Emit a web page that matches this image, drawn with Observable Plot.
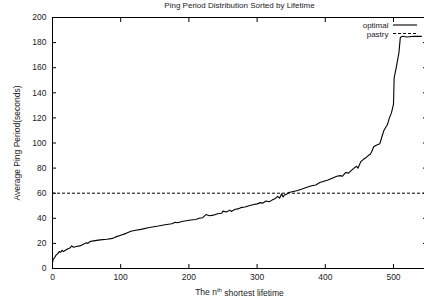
<!DOCTYPE html>
<html>
<head>
<meta charset="utf-8">
<script src="https://cdn.jsdelivr.net/npm/d3@7"></script>
<script src="https://cdn.jsdelivr.net/npm/@observablehq/plot@0.6"></script>
<style>
  body { margin: 0; background: #fff; }
  #chart { position: relative; width: 424px; height: 300px; overflow: hidden; }
</style>
</head>
<body>
<div id="chart"></div>
<script>
const title = "Ping Period Distribution Sorted by Lifetime";
const yLabel = "Average Ping Period(seconds)";
const xLabelParts = ["The n", "th", " shortest lifetime"];
const seriesNames = ["optimal", "pastry"];
const xTicks = [0, 100, 200, 300, 400, 500];
const yTicks = [0, 20, 40, 60, 80, 100, 120, 140, 160, 180, 200];
const pastryValue = 60;

// optimal: rank (n-th shortest lifetime) and average ping period
const rank = [0, 1, 3, 5, 8, 10, 12, 14, 16, 19, 22, 26, 28, 31, 35, 40, 46, 50, 52, 55, 60, 70, 80, 88, 92, 100,
  108, 115, 122, 130, 140, 155, 165, 175, 180, 183, 190, 200, 210, 215, 220, 225, 230, 236, 242, 248, 250, 255,
  260, 262, 268, 272, 276, 282, 288, 295, 300, 305, 308, 313, 318, 322, 326, 330, 333, 336, 338, 340, 343, 346,
  350, 358, 365, 372, 380, 386, 392, 398, 404, 410, 417, 422, 425, 430, 434, 438, 442, 446, 448, 452, 456, 460,
  463, 466, 468, 471, 474, 480, 483, 486, 488, 491, 494, 497, 500, 501, 504, 506, 508, 510, 513, 520, 530, 541];
const optimal = [4.5, 7.5, 8.5, 10.5, 12, 13.5, 13, 14.5, 13.5, 14.5, 15.5, 16.5, 18, 17, 17.5, 18, 19.5, 20.5, 20, 21.5, 22, 22.8, 23.3, 24, 25, 26.5,
  28, 29.7, 30.5, 31.2, 32.5, 33.8, 34.8, 35.6, 36.8, 36.4, 37.5, 38.4, 39.1, 40, 40.4, 43, 42, 42.5, 43.6, 44, 45.7, 45,
  46.5, 45.5, 47.2, 47.5, 48.5, 49, 50, 51, 51.5, 52.5, 52, 53.8, 53.2, 54.5, 55.5, 57.5, 56, 59.5, 57, 58.5, 59.2, 60.5,
  61, 62, 63.2, 64.5, 66, 66.5, 68.5, 69.5, 70.5, 72, 73.5, 74, 73.5, 76.5, 76, 78, 80, 81.5, 80, 85, 87, 88.5,
  90, 91, 93, 97, 98, 99.5, 105, 110, 112, 114.5, 120, 124, 131, 152, 160, 166, 172, 184, 185, 184.5, 185, 185];

const data = rank.map((r, i) => ({rank: r, value: optimal[i]}));
const blank = () => "";
const font = "'Liberation Sans', Arial, Helvetica, sans-serif";

const plot = Plot.plot({
  width: 424,
  height: 300,
  marginLeft: 52,
  marginRight: -2,
  marginTop: 17,
  marginBottom: 32,
  style: {fontFamily: font, fontSize: "8.5px", color: "#000", background: "#fff", overflow: "hidden"},
  x: {domain: [0, 548.4]},
  y: {domain: [0, 200]},
  marks: [
    Plot.ruleY([pastryValue], {stroke: "#000", strokeWidth: 1, strokeDasharray: "3,2"}),
    Plot.line(data, {x: "rank", y: "value", stroke: "#000", strokeWidth: 1.1}),
    Plot.frame({stroke: "#000", strokeWidth: 1}),
    Plot.axisX(xTicks, {anchor: "bottom", tickSize: 4, dy: -4, tickFormat: blank, label: null}),
    Plot.axisX(xTicks, {anchor: "top", tickSize: 4, dy: 4, tickFormat: blank, label: null}),
    Plot.axisY(yTicks, {anchor: "left", tickSize: 4, dx: 4, tickFormat: blank, label: null}),
    Plot.axisY(yTicks, {anchor: "right", tickSize: 4, dx: -4, tickFormat: blank, label: null}),
    Plot.axisX(xTicks, {anchor: "bottom", tickSize: 0, tickPadding: 5, label: null, fill: "#222"}),
    Plot.axisY(yTicks, {anchor: "left", tickSize: 0, tickPadding: 6, label: null, fill: "#222"}),
    Plot.text([title], {frameAnchor: "top", dy: -12.5, lineAnchor: "middle", fontSize: 8, fill: "#222"}),
    Plot.text([yLabel], {frameAnchor: "left", dx: -35, rotate: -90, textAnchor: "middle", fontSize: 8.5, fill: "#222"}),
    Plot.text([xLabelParts.join("")], {frameAnchor: "bottom", dy: 23.5, lineAnchor: "middle", textAnchor: "middle", fontSize: 8.5, fill: "#222"}),
    Plot.text([seriesNames[0]], {frameAnchor: "top-right", dx: -38, dy: 8, lineAnchor: "middle", textAnchor: "end", fontSize: 8, fill: "#222"}),
    Plot.text([seriesNames[1]], {frameAnchor: "top-right", dx: -38, dy: 16.5, lineAnchor: "middle", textAnchor: "end", fontSize: 8, fill: "#222"})
  ]
});

document.getElementById("chart").appendChild(plot);

// superscript "th" in the x label
const full = xLabelParts.join("");
d3.select(plot).selectAll("text").filter(function() { return this.textContent === full; }).each(function() {
  const t = d3.select(this);
  t.text(null);
  t.append("tspan").text(xLabelParts[0]);
  t.append("tspan").attr("dy", "-0.45em").attr("font-size", "6px").text(xLabelParts[1]);
  t.append("tspan").attr("dy", "0.45em").text(xLabelParts[2]);
});

// legend line samples, placed relative to the frame
const xRange = plot.scale("x").range, yRange = plot.scale("y").range;
const frameRight = xRange[1], frameTop = yRange[1];
const svgSel = d3.select(plot);
svgSel.append("line").attr("x1", frameRight - 33).attr("x2", frameRight - 9).attr("y1", frameTop + 8).attr("y2", frameTop + 8)
  .attr("stroke", "#000").attr("stroke-width", 1.1);
svgSel.append("line").attr("x1", frameRight - 33).attr("x2", frameRight - 9).attr("y1", frameTop + 16.5).attr("y2", frameTop + 16.5)
  .attr("stroke", "#000").attr("stroke-width", 1).attr("stroke-dasharray", "3,2");
</script>
</body>
</html>
